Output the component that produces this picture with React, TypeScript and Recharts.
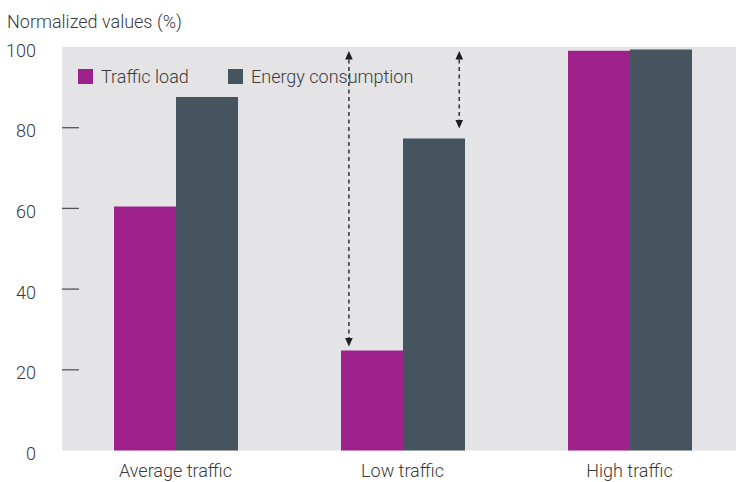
import React from 'react';
import { BarChart, Bar, XAxis, YAxis, CartesianGrid, Legend, ReferenceLine } from 'recharts';

const categories = ['Average traffic', 'Low traffic', 'High traffic'];
const trafficLoad = [60.5, 24.8, 99.1];
const energyConsumption = [87.6, 77.3, 99.4];
const bandPositions = [0.5, 1.5, 2.5];
const yTicks = [0, 20, 40, 60, 80, 100];
const tickMarked = [20, 40, 60, 80];
// arrows annotated in data coordinates: x in band units (category i spans [i, i+1]), y in %
const arrows = [
  { x: 1.264, yFrom: 99, yTo: 25.8 },
  { x: 1.75, yFrom: 99, yTo: 79.8 },
];

const data = categories.map((c, i) => ({
  name: c,
  pos: bandPositions[i],
  traffic: trafficLoad[i],
  energy: energyConsumption[i],
}));

const MAGENTA = '#9e208b';
const SLATE = '#45545f';
const BG = '#e4e4e6';
const TEXT = '#3a3a3a';
const FONT = 'Roboto, "Open Sans", sans-serif';

const YTick = (props: any) => {
  const { x, y, payload } = props;
  const v = payload.value;
  const lineX = x + 26;
  return (
    <g>
      <text x={x} y={y + 3} textAnchor="end" dominantBaseline="central" fill={TEXT} fontSize={18} fontFamily={FONT} fontWeight={300}>
        {v}
      </text>
      {tickMarked.includes(v) && (
        <line x1={lineX} x2={lineX + 17} y1={y} y2={y} stroke="#555" strokeWidth={1.3} />
      )}
    </g>
  );
};

const XTick = (props: any) => {
  const { x, y, payload } = props;
  return (
    <text x={x} y={y + 12} textAnchor="middle" dominantBaseline="central" fill={TEXT} fontSize={18} fontFamily={FONT} fontWeight={300}>
      {payload.value}
    </text>
  );
};

const ArrowShape = (props: any) => {
  const { x1, y1, y2 } = props;
  const top = Math.min(y1, y2);
  const bot = Math.max(y1, y2);
  const x = x1;
  const h = 8.5;
  const w = 3.8;
  return (
    <g>
      <line x1={x} x2={x} y1={top + h} y2={bot - h} stroke="#3c3c3c" strokeWidth={1.6} strokeDasharray="4 3.5" />
      <polygon points={`${x},${top} ${x - w},${top + h} ${x + w},${top + h}`} fill="#1e1e1e" />
      <polygon points={`${x},${bot} ${x - w},${bot - h} ${x + w},${bot - h}`} fill="#1e1e1e" />
    </g>
  );
};

const LegendContent = () => {
  const items = [
    { label: 'Traffic load', color: MAGENTA, width: 150 },
    { label: 'Energy consumption', color: SLATE, width: 200 },
  ];
  return (
    <div style={{ display: 'flex', alignItems: 'center', fontFamily: FONT, fontWeight: 300, fontSize: 18, color: TEXT }}>
      {items.map((it) => (
        <div key={it.label} style={{ display: 'flex', alignItems: 'center', width: it.width }}>
          <span style={{ display: 'inline-block', width: 15, height: 15, background: it.color, marginRight: 8 }} />
          <span>{it.label}</span>
        </div>
      ))}
    </div>
  );
};

export default function App() {
  return (
    <div style={{ position: 'fixed', left: 0, top: 0, width: 736, height: 482, background: '#fff', overflow: 'hidden' }}>
      <div style={{ position: 'absolute', left: 7, top: 10, fontFamily: FONT, fontWeight: 300, fontSize: 18, color: TEXT, lineHeight: '24px' }}>
        Normalized values (%)
      </div>
      <BarChart
        width={743}
        height={482}
        data={data}
        margin={{ top: 47, right: 0, bottom: 0, left: 0 }}
        barGap={0}
        barSize={62}
      >
        <CartesianGrid horizontal={false} vertical={false} fill={BG} stroke="none" />
        <XAxis
          dataKey="name"
          axisLine={false}
          tickLine={false}
          height={31.5}
          tick={<XTick />}
          interval={0}
        />
        <XAxis xAxisId="num" dataKey="pos" type="number" scale="linear" domain={[0, 3]} hide allowDataOverflow />
        <YAxis
          width={62}
          domain={[0, 100]}
          ticks={yTicks}
          axisLine={false}
          tickLine={false}
          tickSize={0}
          tickMargin={26}
          tick={<YTick />}
          interval={0}
        />
        <Legend
          layout="horizontal"
          verticalAlign="middle"
          align="center"
          wrapperStyle={{ position: 'absolute', left: 78, top: 66, width: 400 }}
          content={<LegendContent />}
        />
        <Bar dataKey="traffic" name="Traffic load" fill={MAGENTA} isAnimationActive={false} />
        <Bar dataKey="energy" name="Energy consumption" fill={SLATE} isAnimationActive={false} />
        {arrows.map((a, i) => (
          <ReferenceLine
            key={i}
            xAxisId="num"
            segment={[{ x: a.x, y: a.yFrom }, { x: a.x, y: a.yTo }]}
            shape={<ArrowShape />}
            ifOverflow="visible"
          />
        ))}
      </BarChart>
    </div>
  );
}
